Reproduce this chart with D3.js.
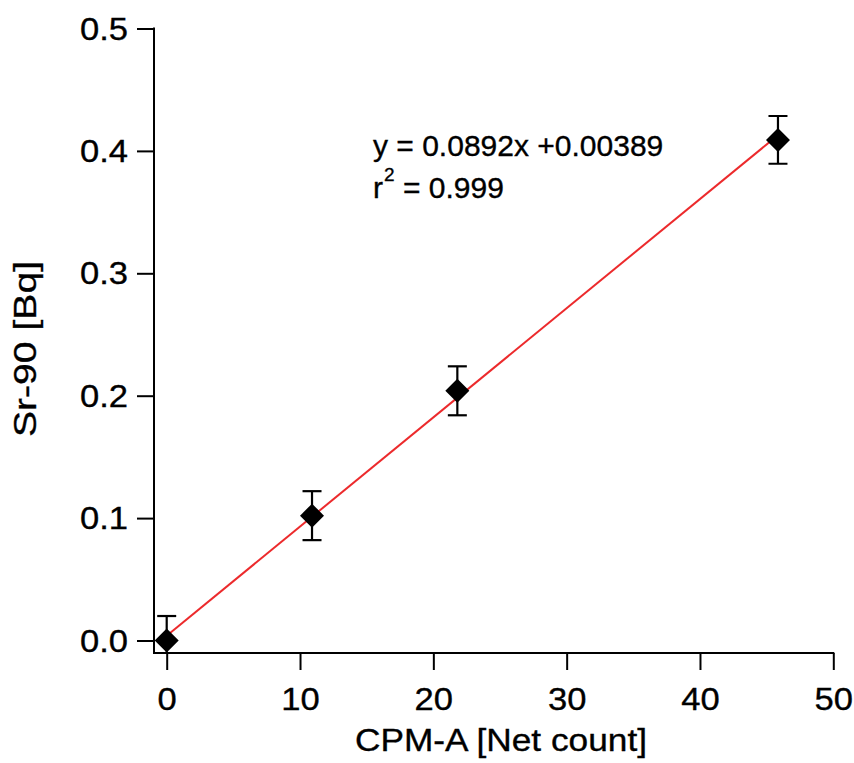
<!DOCTYPE html>
<html>
<head>
<meta charset="utf-8">
<script src="https://cdn.jsdelivr.net/npm/d3@7"></script>
<style>
  html, body { margin: 0; padding: 0; background: #fff; }
  svg { display: block; }
  text { font-family: "Liberation Sans", Arial, Helvetica, sans-serif; fill: #000; stroke: #000; stroke-width: 0.35px; }
</style>
</head>
<body>
<svg id="chart" width="854" height="763"></svg>
<script>
// Calibration points: CPM-A net count vs Sr-90 activity
const cpmNet = [0, 10.9, 21.8, 45.85];
const sr90Bq = [0, 0.102, 0.204, 0.409];
const sr90Err = [0.02, 0.02, 0.02, 0.0195];

// Linear fit as printed (x of the equation is in tens of counts)
const fitSlope = 0.0892;
const fitIntercept = 0.00389;
const fitR2 = "0.999";
const slopePerCount = 0.00892;

const xTicks = [0, 10, 20, 30, 40, 50];
const yTicks = [0.0, 0.1, 0.2, 0.3, 0.4, 0.5];

const svg = d3.select("#chart");

const x = d3.scaleLinear().domain([0, 50]).range([166.7, 833.3]);
const y = d3.scaleLinear().domain([0, 0.5]).range([640.5, 28.5]);

const axisX = 154;   // y-axis line position (offset from x = 0)
const axisY = 653;   // x-axis line position (offset from y = 0)
const tickLen = 17;
const widen = 1.08;  // horizontal stretch of the label lettering

function stretch(sel, k) {
  sel.each(function () {
    const w = this.getComputedTextLength();
    d3.select(this).attr("textLength", w * k).attr("lengthAdjust", "spacingAndGlyphs");
  });
}

// Axes
const gy = svg.append("g")
  .attr("transform", `translate(${axisX},0)`)
  .call(d3.axisLeft(y).tickValues(yTicks).tickFormat(d3.format(".1f"))
    .tickSize(tickLen).tickPadding(9));
gy.select(".domain").remove();
gy.selectAll(".tick line").attr("stroke", "#000").attr("stroke-width", 2);
gy.selectAll(".tick text").attr("font-size", 32).attr("font-family", null).attr("dy", "0.33em")
  .call(stretch, widen);

const gx = svg.append("g")
  .attr("transform", `translate(0,${axisY})`)
  .call(d3.axisBottom(x).tickValues(xTicks).tickFormat(d3.format("d"))
    .tickSize(tickLen).tickPadding(17));
gx.select(".domain").remove();
gx.selectAll(".tick line").attr("stroke", "#000").attr("stroke-width", 2);
gx.selectAll(".tick text").attr("font-size", 32).attr("font-family", null).attr("dy", "0.71em")
  .call(stretch, widen);

svg.append("line")
  .attr("x1", axisX).attr("x2", axisX)
  .attr("y1", y(0.5) - 1).attr("y2", axisY + 1)
  .attr("stroke", "#000").attr("stroke-width", 2);
svg.append("line")
  .attr("x1", axisX - 1).attr("x2", x(50) + 1)
  .attr("y1", axisY).attr("y2", axisY)
  .attr("stroke", "#000").attr("stroke-width", 2);

// Axis titles
svg.append("text")
  .attr("x", 501).attr("y", 751)
  .attr("text-anchor", "middle")
  .attr("font-size", 32)
  .attr("textLength", 292).attr("lengthAdjust", "spacingAndGlyphs")
  .text("CPM-A [Net count]");

svg.append("text")
  .attr("transform", `translate(36,349) rotate(-90)`)
  .attr("text-anchor", "middle")
  .attr("font-size", 32)
  .attr("textLength", 176).attr("lengthAdjust", "spacingAndGlyphs")
  .text("Sr-90 [Bq]");

// Plot area clip
svg.append("clipPath").attr("id", "plot")
  .append("rect")
  .attr("x", axisX).attr("y", 0)
  .attr("width", x(50) - axisX + 20).attr("height", axisY);

const plot = svg.append("g").attr("clip-path", "url(#plot)");

// Fit line
const xMax = d3.max(cpmNet);
plot.append("line")
  .attr("x1", x(0)).attr("y1", y(fitIntercept))
  .attr("x2", x(xMax)).attr("y2", y(slopePerCount * xMax + fitIntercept))
  .attr("stroke", "#ec2a2c").attr("stroke-width", 2);

// Error bars
const pts = cpmNet.map((v, i) => ({ x: v, y: sr90Bq[i], e: sr90Err[i] }));
const cap = 9.5;
const eb = plot.append("g").attr("stroke", "#000").attr("stroke-width", 2.2);
pts.forEach(p => {
  eb.append("line").attr("x1", x(p.x)).attr("x2", x(p.x))
    .attr("y1", y(p.y + p.e)).attr("y2", y(p.y - p.e));
  eb.append("line").attr("x1", x(p.x) - cap).attr("x2", x(p.x) + cap)
    .attr("y1", y(p.y + p.e)).attr("y2", y(p.y + p.e));
  eb.append("line").attr("x1", x(p.x) - cap).attr("x2", x(p.x) + cap)
    .attr("y1", y(p.y - p.e)).attr("y2", y(p.y - p.e));
});

// Diamond markers
const r = 12;
svg.append("g").selectAll("path")
  .data(pts).join("path")
  .attr("d", p => {
    const cx = x(p.x), cy = y(p.y);
    return `M${cx},${cy - r}L${cx + r},${cy}L${cx},${cy + r}L${cx - r},${cy}Z`;
  })
  .attr("fill", "#000");

// Regression equation
svg.append("text")
  .attr("x", 373).attr("y", 156)
  .attr("font-size", 30)
  .text(`y = ${fitSlope}x +${fitIntercept}`);
const r2 = svg.append("text")
  .attr("x", 373).attr("y", 198)
  .attr("font-size", 30);
r2.append("tspan").text("r");
r2.append("tspan").attr("font-size", 19).attr("dy", -17).attr("dx", 1).text("2");
r2.append("tspan").attr("dy", 17).text(` = ${fitR2}`);
</script>
</body>
</html>
